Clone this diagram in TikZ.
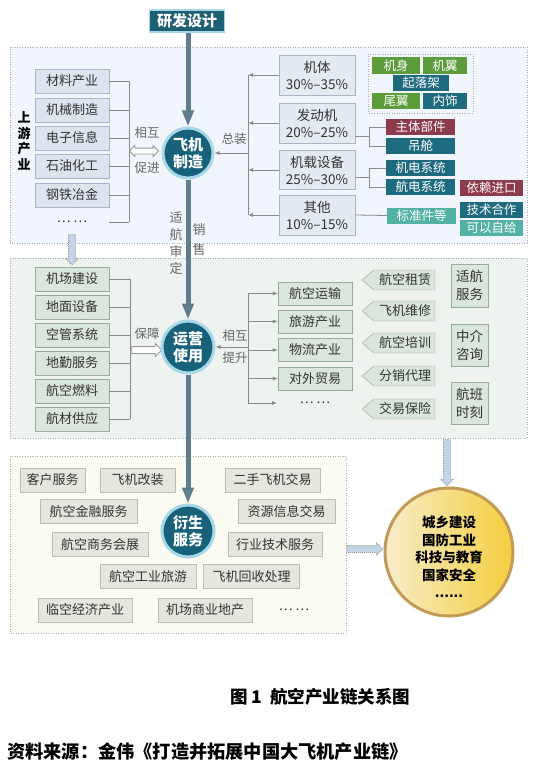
\documentclass[tikz,border=0pt]{standalone}
\usepackage{fontspec}
\setmainfont{Noto Sans CJK SC}
\usetikzlibrary{arrows.meta,shapes.arrows}
\definecolor{cteal}{HTML}{17627A}
\definecolor{cring}{HTML}{A6D8EA}
\definecolor{yfc}{HTML}{1D5F73}
\definecolor{shaft}{HTML}{5E7E8E}
\definecolor{lgray}{HTML}{8A8A8A}
\definecolor{txt}{HTML}{333333}
\definecolor{lblc}{HTML}{666666}
\definecolor{pTop}{HTML}{F0F6FB}
\definecolor{pMid}{HTML}{EEF3EF}
\definecolor{pBot}{HTML}{FCFBF2}
\definecolor{bTop}{HTML}{DCE5EE}
\definecolor{bTopR}{HTML}{E3EAF2}
\definecolor{bTopD}{HTML}{A8B6C6}
\definecolor{bMid}{HTML}{DAE5DC}
\definecolor{bMidD}{HTML}{99AA9C}
\definecolor{bBot}{HTML}{E6E6DE}
\definecolor{bBotD}{HTML}{BDBDB2}
\definecolor{gGreen}{HTML}{5D9C3B}
\definecolor{gTeal}{HTML}{1E6B80}
\definecolor{gMaroon}{HTML}{8C3A4C}
\definecolor{gLteal}{HTML}{52B3A4}
\definecolor{goldA}{HTML}{F8EDCB}
\definecolor{goldB}{HTML}{F3CE3E}
\definecolor{goldE}{HTML}{C39A56}
\definecolor{dArrow}{HTML}{C3D3E8}
\newcommand\fsz[2]{\fontsize{#1}{#2}\selectfont}
\newcommand\pentbox[3]{%
  \draw[pent] (362,#2) -- ++(12,-10) -- ++(61,0) -- ++(0,20) -- ++(-61,0) -- cycle;
  \node[bx] (#1) at (405,#2) {#3};}
\begin{document}
\begin{tikzpicture}[x=1pt,y=-1pt,
  panel/.style={draw=gray!65,dash pattern=on 1pt off 1.5pt,line width=0.9pt},
  bx/.style={rectangle,inner sep=0pt,text=txt,font=\fsz{13}{15}},
  ulbox/.style={bx,fill=bTop,draw=bTopD,minimum width=74pt,minimum height=24pt},
  urbox/.style={bx,fill=bTopR,draw=bTopD,minimum width=76pt,minimum height=40pt,align=center,font=\fsz{13.5}{17}},
  cbox/.style={rectangle,inner sep=0pt,fill=#1,text=white,font=\fsz{12.5}{14},minimum height=16pt},
  mlbox/.style={bx,fill=bMid,draw=bMidD,minimum width=74pt,minimum height=24pt},
  mrbox/.style={bx,fill=bMid,draw=bMidD,minimum width=74pt,minimum height=23pt},
  pent/.style={fill=bMid,draw=bMidD},
  sbox/.style={bx,fill=bMid,draw=bMidD,minimum width=37pt,align=center,font=\fsz{13.5}{18}},
  bbox/.style={bx,fill=bBot,draw=bBotD,minimum height=24pt},
  hub/.style={circle,fill=cteal,draw=cring,line width=3pt,text=white,font=\bfseries\fsz{15}{17},align=center,minimum size=50pt,inner sep=0pt},
  trunk/.style={draw=shaft,line width=5pt,-{Triangle[length=16pt,width=11pt]}},
  conn/.style={draw=lgray,line width=0.8pt},
  ctip/.style={-{Latex[length=5pt,width=4pt]}},
  lbl/.style={text=lblc,font=\fsz{12.5}{14},inner sep=0pt},
  darrow/.style={single arrow,draw=gray!80,dash pattern=on 1pt off 1pt,line width=0.9pt,fill=dArrow,inner sep=3pt,single arrow head extend=3pt,single arrow head indent=0pt},
  harrow/.style={draw=gray!80,fill=white,line width=0.8pt}
]
\fill[white] (0,0) rectangle (552,773);
\useasboundingbox (0,0) rectangle (552,773);
% panels
\draw[panel,fill=pTop] (10,47) rectangle (527,243);
\draw[panel,fill=pMid] (10,258) rectangle (527,438);
\draw[panel,fill=pBot] (10,456) rectangle (346,633);
\draw[panel] (368,54) rectangle (473,113);

% ---------- upstream ----------
\node[font=\bfseries\fsz{13}{15.5},align=center,inner sep=0pt] (up) at (24,141) {上\\游\\产\\业};
\node[ulbox] (u1) at (72,81) {材料产业};
\node[ulbox] (u2) at (72,110) {机械制造};
\node[ulbox] (u3) at (72,138) {电子信息};
\node[ulbox] (u4) at (72,166) {石油化工};
\node[ulbox] (u5) at (72,195) {钢铁冶金};
\node[bx] (u6) at (72,222) {… …};
\coordinate (ubx) at (129,0);
\foreach \n in {u1,u2,u3,u4,u5} \draw[conn] (\n.east) -- (\n.east -| ubx);
\draw[conn] (u6.east -| u1.east) -- (u6.east -| ubx);
\draw[conn] (u1.east -| ubx) -- (u6.east -| ubx);
\node[double arrow,harrow,inner sep=2.5pt,double arrow head extend=2.5pt,minimum height=29pt] (dbl) at (144,151) {};
\node[lbl] (t1) at (147,133) {相互};
\node[lbl] (t2) at (147,168) {促进};

\node[urbox] (a1) at (317,75) {机体\\30\%–35\%};
\node[urbox] (a2) at (317,123) {发动机\\20\%–25\%};
\node[urbox,minimum height=39pt] (a3) at (317,170) {机载设备\\25\%–30\%};
\node[urbox] (a4) at (317,215) {其他\\10\%–15\%};

\node[cbox=gGreen,minimum width=48pt,minimum height=17pt] (k1) at (396,65.5) {机身};
\node[cbox=gGreen,minimum width=44pt,minimum height=17pt] (k2) at (445,65.5) {机翼};
\node[cbox=gTeal,minimum width=56pt] (k3) at (421,83) {起落架};
\node[cbox=gGreen,minimum width=48pt] (k4) at (396,101) {尾翼};
\node[cbox=gTeal,minimum width=44pt] (k5) at (445,101) {内饰};
\node[cbox=gMaroon,minimum width=69pt] (e1) at (420.5,127) {主体部件};
\node[cbox=gTeal,minimum width=69pt] (e2) at (420.5,146) {吊舱};
\node[cbox=gTeal,minimum width=69pt] (s1) at (420.5,168) {机电系统};
\node[cbox=gTeal,minimum width=69pt] (s2) at (420.5,187) {航电系统};
\node[cbox=gMaroon,minimum width=63pt] (s3) at (491.5,188) {依赖进口};
\node[cbox=gLteal,minimum width=69pt] (o1) at (421.5,215.5) {标准件等};
\node[cbox=gTeal,minimum width=63pt] (o2) at (491.5,209.5) {技术合作};
\node[cbox=gLteal,minimum width=63pt] (o3) at (491.5,228) {可以自给};

\coordinate (j1) at (369,136.5);
\draw[conn] (a2.east |- j1) -- (j1);
\draw[conn] (e1.west) -| (j1);
\draw[conn] (e2.west) -| (j1);
\coordinate (j2) at (369,177.5);
\draw[conn] (a3.east |- j2) -- (j2);
\draw[conn] (s1.west) -| (j2);
\draw[conn] (s2.west) -| (j2);
\draw[conn] (a4.east) -- (o1.west);

% ---------- middle ----------
\node[darrow,shape border rotate=270,minimum height=30pt] (da1) at (72,248) {};
\node[mlbox] (m1) at (72,279) {机场建设};
\node[mlbox] (m2) at (72,307) {地面设备};
\node[mlbox] (m3) at (72,335) {空管系统};
\node[mlbox] (m4) at (72,363) {地勤服务};
\node[mlbox] (m5) at (72,391) {航空燃料};
\node[mlbox] (m6) at (72,419) {航材供应};
\coordinate (lbx) at (130,0);
\foreach \n in {m1,m2,m3,m4,m5,m6} \draw[conn] (\n.east) -- (\n.east -| lbx);
\draw[conn] (m1.east -| lbx) -- (m6.east -| lbx);
\node[single arrow,harrow,inner sep=3pt,single arrow head extend=3pt,minimum height=30pt] (bz) at (145,350) {};
\node[lbl] (bzt) at (147,334) {保障};

\node[mrbox] (r1) at (315,293.5) {航空运输};
\node[mrbox] (r2) at (315,321.5) {旅游产业};
\node[mrbox] (r3) at (315,350) {物流产业};
\node[mrbox] (r4) at (315,378.5) {对外贸易};
\node[bx] (r5) at (315,403) {… …};
\coordinate (r5w) at (277,403);
\coordinate (mbx) at (248,0);
\foreach \n in {r1,r2,r3,r4} \draw[conn,ctip] (\n.west -| mbx) -- (\n.west);
\draw[conn,ctip] (r5w -| mbx) -- (r5w);
\draw[conn] (r1.west -| mbx) -- (r5w -| mbx);
\node[lbl] (xs1) at (235,336) {相互};
\node[lbl] (xs2) at (235,358) {提升};

\pentbox{p1}{280}{航空租赁}
\pentbox{p2}{311}{飞机维修}
\pentbox{p3}{343}{航空培训}
\pentbox{p4}{376}{分销代理}
\pentbox{p5}{409}{交易保险}

\node[sbox,minimum height=43pt] (sv1) at (469.5,285.5) {适航\\服务};
\node[sbox,minimum height=42pt] (sv2) at (469.5,345) {中介\\咨询};
\node[sbox,minimum height=42pt] (sv3) at (469.5,403) {航班\\时刻};

% ---------- bottom ----------
\node[bbox,minimum width=65pt] (b1) at (52.5,480) {客户服务};
\node[bbox,minimum width=75pt] (b2) at (137.5,480) {飞机改装};
\node[bbox,minimum width=95pt] (b3) at (272.5,480) {二手飞机交易};
\node[bbox,minimum width=97pt] (b4) at (88.5,511.5) {航空金融服务};
\node[bbox,minimum width=97pt] (b5) at (286.5,511.5) {资源信息交易};
\node[bbox,minimum width=96pt] (b6) at (100,544.5) {航空商务会展};
\node[bbox,minimum width=94pt] (b7) at (275,544.5) {行业技术服务};
\node[bbox,minimum width=96pt] (b8) at (148,576.5) {航空工业旅游};
\node[bbox,minimum width=96pt] (b9) at (251.5,576.5) {飞机回收处理};
\node[bbox,minimum width=94pt] (b10) at (85,610) {临空经济产业};
\node[bbox,minimum width=94pt] (b11) at (205,610) {机场商业地产};
\node[bx] (b12) at (294,610) {… …};

% ---------- hubs and trunk ----------
\node[rectangle,fill=yfc,draw=cring,line width=1.2pt,minimum width=75pt,minimum height=22pt,inner sep=0pt,text=white,font=\bfseries\fsz{15}{17}] (yf) at (187,21) {研发设计};
\node[hub] (c1) at (188,153) {飞机\\制造};
\node[hub,minimum size=52pt] (c2) at (188,347) {运营\\使用};
\node[hub,minimum size=52pt] (c3) at (188,531) {衍生\\服务};
\draw[trunk] (yf.south -| c1.north) -- (c1.north);
\draw[trunk] (c1.south) -- (c2.north);
\draw[trunk] (c2.south) -- (c3.north);

\coordinate (rbx) at (248,0);
\foreach \n in {a1,a2,a3,a4} \draw[conn,ctip] (\n.west) -- (\n.west -| rbx);
\draw[conn] (a1.west -| rbx) -- (a4.west -| rbx);
\draw[conn,ctip] (c1.east -| rbx) -- (c1.east);
\draw[conn,ctip] (c2.east -| mbx) -- (c2.east);
\node[lbl] (zz) at (234,139) {总装};
\node[lbl,align=center,font=\fsz{13}{17}] (sh) at (176,243) {适\\航\\审\\定};
\node[lbl,align=center,font=\fsz{13}{20}] (xsl) at (199,240) {销\\售};

% ---------- gold ----------
\node[circle,draw=goldE,line width=3pt,left color=goldA,right color=goldB,minimum size=128pt,inner sep=0pt] (gold) at (449,552) {};
\node[font=\bfseries\fsz{13.5}{17.5},align=center,text=black,inner sep=0pt] (goldt) at (449,557) {城乡建设\\国防工业\\科技与教育\\国家安全\\......};
\node[darrow,shape border rotate=270,minimum height=46pt] (da2) at (447,461) {};
\node[darrow,minimum height=36pt] (da3) at (363,549) {};

% ---------- caption ----------
\node[font=\bfseries\fsz{17.5}{19},inner sep=0pt] (cap) at (320.5,697) {图\,1\ \ 航空产业链关系图};
\node[font=\bfseries\fsz{18.2}{20},inner sep=0pt,anchor=west] (src) at (7,752) {资料来源：金伟《打造并拓展中国大飞机产业链》};
\end{tikzpicture}
\end{document}
